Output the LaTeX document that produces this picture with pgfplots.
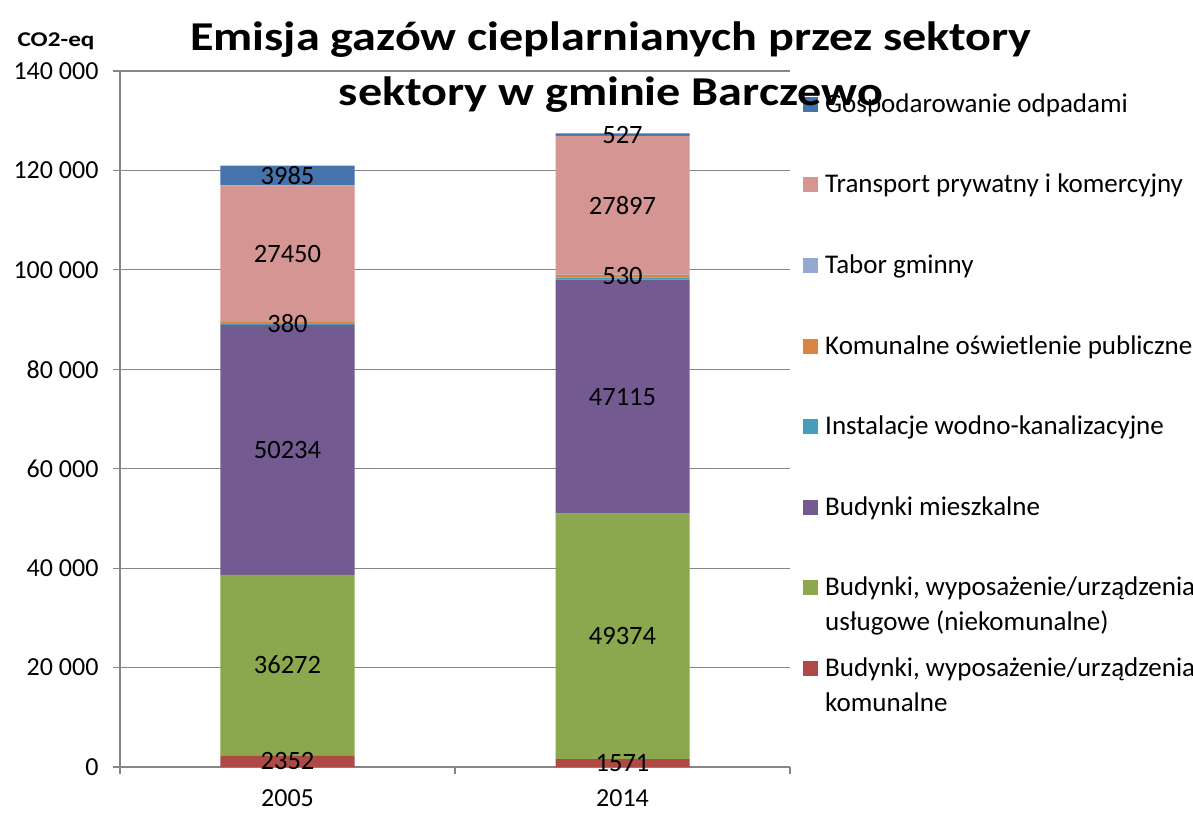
\documentclass[border=0pt]{standalone}
\usepackage{pgfplots}
\pgfplotsset{compat=1.18}
\usepackage{graphicx}
\usepackage{fontspec}
\setmainfont{Carlito}

\definecolor{cOdp}{HTML}{4573AC}
\definecolor{cTra}{HTML}{D59592}
\definecolor{cTab}{HTML}{93A9CF}
\definecolor{cOsw}{HTML}{DD853F}
\definecolor{cIns}{HTML}{44A0BA}
\definecolor{cMie}{HTML}{735A91}
\definecolor{cUsl}{HTML}{8CA84E}
\definecolor{cKom}{HTML}{AE4946}
\definecolor{gridgray}{HTML}{868686}

\pgfplotsset{
  plotarea/.style={
    scale only axis,
    width=670pt, height=696pt,
    xmin=-0.5, xmax=1.5,
    ymin=0, ymax=140000,
  },
}

\begin{document}
\begin{tikzpicture}
\begin{axis}[
  name=ax,
  plotarea,
  ybar stacked,
  bar width=134pt,
  xtick={-0.5,0.5,1.5}, xticklabels={},
  extra x ticks={0,1}, extra x tick labels={2005,2014},
  extra x tick style={major tick length=0pt},
  ytick={0,20000,...,140000},
  yticklabels={0,20~000,40~000,60~000,80~000,100~000,120~000,140~000},
  scaled y ticks=false,
  ymajorgrids,
  grid style={line width=1.2pt, gridgray},
  axis x line*=bottom, axis y line*=left,
  axis line style={line width=1.2pt, gridgray, -},
  tick align=outside,
  major tick length=7pt,
  tick style={line width=1.2pt, gridgray},
  tick label style={font=\fontsize{26}{30}\selectfont, black},
  yticklabel style={xshift=-11pt},
  xticklabel style={yshift=-19pt},
  legend style={at={(1,1)}, anchor=north west, xshift=13pt, yshift=-23pt,
    draw=none, fill=none, inner sep=0pt, row sep=52.6pt,
    font=\fontsize{27}{35}\selectfont,
    cells={anchor=base west},
    nodes={inner sep=0pt, text height=18pt, text depth=10pt}},
  reverse legend,
  legend image code/.code={\fill[#1] (0pt,0.5pt) rectangle (15pt,15.5pt); \path (22pt,0pt);},
]
\addplot[fill=cKom, draw=none] coordinates {(0,2352) (1,1571)};
\addlegendentry{\parbox[t]{370pt}{Budynki, wyposażenie/urządzenia\\komunalne}}
\addplot[fill=cUsl, draw=none] coordinates {(0,36272) (1,49374)};
\addlegendentry{\parbox[t]{370pt}{Budynki, wyposażenie/urządzenia\\usługowe (niekomunalne)}}
\addplot[fill=cMie, draw=none] coordinates {(0,50234) (1,47115)};
\addlegendentry{Budynki mieszkalne}
\addplot[fill=cIns, draw=none] coordinates {(0,250) (1,400)};
\addlegendentry{Instalacje wodno-kanalizacyjne}
\addplot[fill=cOsw, draw=none] coordinates {(0,380) (1,530)};
\addlegendentry{Komunalne oświetlenie publiczne}
\addplot[fill=cTab, draw=none] coordinates {(0,50) (1,50)};
\addlegendentry{Tabor gminny}
\addplot[fill=cTra, draw=none] coordinates {(0,27450) (1,27897)};
\addlegendentry{Transport prywatny i komercyjny}
\addplot[fill=cOdp, draw=none] coordinates {(0,3985) (1,527)};
\addlegendentry{Gospodarowanie odpadami}
\end{axis}

% value labels, at the middle of each segment
\begin{axis}[
  plotarea,
  hide axis,
  point meta=explicit symbolic,
  nodes near coords,
  every node near coord/.style={anchor=center, black, font=\fontsize{26.5}{30}\selectfont},
]
\addplot[only marks, mark=none] coordinates {
  (0,1176) [2352] (0,20488) [36272] (0,63741) [50234]
  (0,89298) [380] (0,103263) [27450] (0,118980) [3985]
  (1,786) [1571] (1,26258) [49374] (1,74503) [47115]
  (1,98725) [530] (1,112989) [27897] (1,127200) [527]
};
\end{axis}

\node[anchor=base, font=\fontsize{41}{50}\selectfont\bfseries]
  at ([xshift=491pt, yshift=20pt]ax.north west)
  {\scalebox{1.175}[1]{Emisja gazów cieplarnianych przez sektory}};
\node[anchor=base, font=\fontsize{41}{50}\selectfont\bfseries]
  at ([xshift=491pt, yshift=-35pt]ax.north west)
  {\scalebox{1.175}[1]{sektory w gminie Barczewo}};
\node[anchor=base east, font=\fontsize{21}{24}\selectfont\bfseries]
  at ([xshift=-22pt, yshift=24.3pt]ax.north west) {\scalebox{1.2}[1]{CO2-eq}};
\pgfresetboundingbox
\path[use as bounding box] ([xshift=-120pt, yshift=71pt]ax.north west)
  rectangle ([xshift=1073pt, yshift=-741pt]ax.north west);
\end{tikzpicture}
\end{document}
